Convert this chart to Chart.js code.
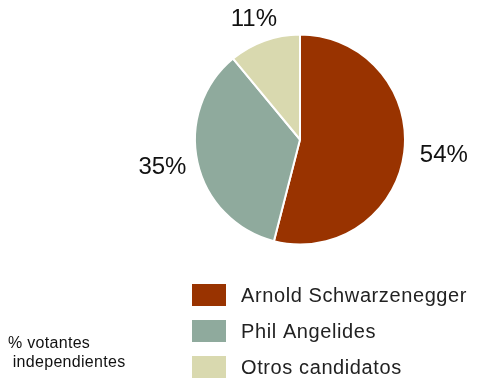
<!DOCTYPE html>
<html>
<head>
<meta charset="utf-8">
<script src="https://cdn.jsdelivr.net/npm/chart.js@4"></script>
<style>
  html, body { margin: 0; padding: 0; background: #fff; }
  #wrap { position: relative; width: 477px; height: 379px; }
</style>
</head>
<body>
<div id="wrap"><canvas id="votersPie"></canvas></div>
<script>
// Independent voters, share by candidate
const candidates = ["Arnold Schwarzenegger", "Phil Angelides", "Otros candidatos"];
const shares = [54, 35, 11];
const sliceColors = ["#993300", "#8FAA9D", "#D9D9AF"];
const footnote = ["% votantes", " independientes"];

const FONT = '"Liberation Sans", Arial, sans-serif';

// Percent labels outside each slice + legend block + footnote
const annotations = {
  id: 'annotations',
  afterDraw(chart) {
    const ctx = chart.ctx;
    const meta = chart.getDatasetMeta(0);
    ctx.save();

    // percent labels, pushed out past the rim by half the text box
    ctx.font = '24px ' + FONT;
    ctx.fillStyle = '#111';
    ctx.textAlign = 'center';
    ctx.textBaseline = 'middle';
    meta.data.forEach((arc, i) => {
      const mid = (arc.startAngle + arc.endAngle) / 2;
      const dx = Math.cos(mid), dy = Math.sin(mid);
      const label = shares[i] + '%';
      const w = ctx.measureText(label).width, h = 17;
      const r = arc.outerRadius + 14;
      const x = arc.x + dx * r + dx * w / 2;
      const y = arc.y + dy * r + dy * h / 2;
      ctx.fillText(label, x + 2, y);
    });

    // legend
    ctx.font = '20px ' + FONT;
    ctx.letterSpacing = '0.6px';
    ctx.textAlign = 'left';
    candidates.forEach((name, i) => {
      const cy = 295 + i * 36;
      ctx.fillStyle = sliceColors[i];
      ctx.fillRect(192, cy - 11, 34, 22);
      ctx.fillStyle = '#222';
      ctx.fillText(name, 241, cy + 1);
    });

    // footnote
    ctx.font = '16px ' + FONT;
    ctx.letterSpacing = '0.3px';
    ctx.fillStyle = '#111';
    ctx.textBaseline = 'alphabetic';
    footnote.forEach((line, i) => ctx.fillText(line, 8, 348 + i * 19));

    ctx.restore();
  }
};

new Chart(document.getElementById('votersPie'), {
  type: 'pie',
  data: {
    labels: candidates,
    datasets: [{
      data: shares,
      backgroundColor: sliceColors,
      borderColor: '#fff',
      borderWidth: 2
    }]
  },
  options: {
    responsive: true,
    maintainAspectRatio: false,
    animation: false,
    layout: {
      padding: { top: 33, right: 71, bottom: 133, left: 194 }
    },
    plugins: {
      legend: { display: false },
      tooltip: { enabled: false }
    }
  },
  plugins: [annotations]
});
</script>
</body>
</html>
